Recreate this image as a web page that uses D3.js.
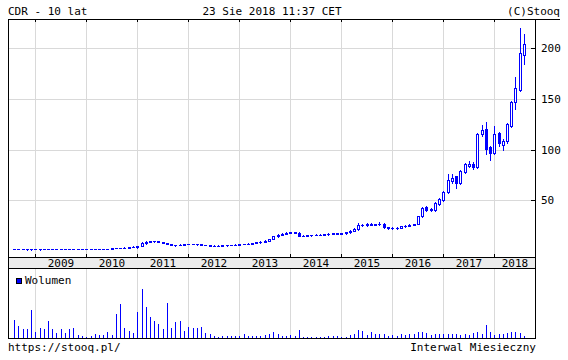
<!DOCTYPE html>
<html>
<head>
<meta charset="utf-8">
<script src="https://cdn.jsdelivr.net/npm/d3@7"></script>
<style>
body { margin: 0; background: #fff; }
text { font-family: "DejaVu Sans Mono", monospace; font-size: 11px; fill: #000; }
</style>
</head>
<body>
<div id="chart"></div>
<script>
// monthly candles, Aug 2008 .. Aug 2018 (121 months)
const firstMonth = new Date(2008, 7, 1);
const lastMonth = new Date(2018, 7, 1);
const years = [2009, 2010, 2011, 2012, 2013, 2014, 2015, 2016, 2017, 2018];
const priceTicks = [50, 100, 150, 200];

const opens = [
  2.1, 2.0, 1.9, 1.7, 1.7, 1.8, 1.7, 1.8, 1.8, 2.0, 1.9, 2.0, 2.0, 2.0, 2.1, 2.0, 2.0, 2.0, 2.0, 2.0,
  2.1, 2.1, 2.2, 2.3, 2.7, 3.0, 3.2, 3.4, 3.7, 3.6, 5.0, 8.0, 9.2, 9.7, 9.8, 8.9, 8.0, 6.8, 5.6, 6.2,
  6.3, 6.8, 7.0, 6.9, 6.6, 6.1, 5.6, 5.4, 5.3, 5.4, 5.6, 5.8, 6.1, 6.4, 6.7, 7.0, 7.4, 7.8, 8.5, 9.3,
  10.3, 11.9, 14.8, 16.0, 17.1, 17.8, 18.3, 18.1, 15.0, 15.3, 15.5, 15.8, 16.0, 16.3, 16.4, 17.1, 17.3, 17.0, 17.4, 18.5,
  20.1, 21.8, 25.6, 25.3, 27.0, 26.0, 26.3, 27.0, 23.3, 22.4, 22.8, 23.2, 24.6, 25.1, 25.8, 26.6, 34.3, 43.2, 40.0, 40.5,
  46.5, 50.3, 58.3, 69.0, 73.8, 67.6, 78.0, 84.0, 86.3, 83.0, 115.7, 120.6, 102.5, 97.0, 116.3, 105.0, 108.4, 123.8, 146.7, 159.0,
  193.0
];
const highs = [
  2.3, 2.1, 2.2, 1.9, 1.9, 1.9, 1.9, 2.0, 2.2, 2.1, 2.1, 2.2, 2.1, 2.2, 2.2, 2.1, 2.1, 2.1, 2.1, 2.2,
  2.2, 2.3, 2.4, 2.9, 3.2, 3.4, 3.6, 3.9, 4.6, 5.2, 9.0, 9.6, 10.2, 10.3, 10.0, 9.1, 8.2, 7.0, 6.4, 6.6,
  7.0, 7.2, 7.3, 7.1, 6.8, 6.3, 5.8, 5.6, 5.6, 5.8, 6.0, 6.3, 6.6, 6.9, 7.2, 7.6, 8.1, 8.7, 9.5, 10.6,
  12.3, 15.2, 16.5, 17.5, 18.3, 18.8, 19.0, 18.5, 15.8, 16.0, 16.3, 16.4, 16.8, 16.9, 17.5, 17.8, 17.7, 17.8, 18.8, 20.4,
  22.5, 27.6, 26.5, 27.5, 27.4, 26.9, 28.2, 27.3, 23.8, 23.4, 23.8, 25.0, 25.6, 26.3, 27.0, 35.0, 43.5, 44.0, 42.0, 48.5,
  52.0, 59.5, 76.5, 76.0, 74.5, 79.5, 87.0, 88.5, 87.5, 116.5, 124.5, 127.7, 104.0, 123.0, 117.8, 110.5, 126.5, 148.0, 172.0, 220.0,
  214.0
];
const lows = [
  1.9, 1.8, 1.6, 1.5, 1.5, 1.6, 1.5, 1.6, 1.7, 1.8, 1.8, 1.9, 1.9, 1.9, 1.9, 1.9, 1.9, 1.9, 1.9, 1.9,
  2.0, 2.0, 2.1, 2.2, 2.5, 2.8, 3.0, 3.2, 3.5, 3.4, 4.8, 7.4, 8.8, 9.2, 8.6, 7.8, 6.6, 5.6, 5.3, 5.9,
  6.1, 6.5, 6.6, 6.4, 6.0, 5.5, 5.2, 5.1, 5.1, 5.2, 5.4, 5.6, 5.9, 6.2, 6.5, 6.8, 7.2, 7.6, 8.3, 9.0,
  10.0, 11.6, 14.2, 15.6, 16.7, 17.4, 17.6, 14.4, 14.6, 14.9, 15.0, 15.4, 15.6, 15.8, 16.1, 16.8, 16.6, 16.7, 17.1, 18.2,
  19.8, 21.2, 24.6, 24.8, 25.2, 25.3, 25.8, 22.8, 21.8, 21.6, 22.2, 22.9, 24.0, 24.6, 25.2, 26.2, 33.5, 39.2, 39.2, 39.8,
  45.5, 49.8, 57.5, 67.5, 61.8, 66.5, 77.0, 83.0, 80.7, 82.0, 113.5, 96.0, 89.5, 95.5, 104.0, 99.3, 107.0, 122.5, 140.0, 158.0,
  185.0
];
const closes = [
  2.0, 1.9, 1.7, 1.7, 1.8, 1.7, 1.8, 1.8, 2.0, 1.9, 2.0, 2.0, 2.0, 2.1, 2.0, 2.0, 2.0, 2.0, 2.0, 2.1,
  2.1, 2.2, 2.3, 2.7, 3.0, 3.2, 3.4, 3.7, 4.2, 5.0, 8.0, 9.2, 9.7, 9.8, 8.9, 8.0, 6.8, 5.8, 6.2, 6.3,
  6.8, 7.0, 6.9, 6.6, 6.1, 5.6, 5.4, 5.3, 5.4, 5.6, 5.8, 6.1, 6.4, 6.7, 7.0, 7.4, 7.8, 8.5, 9.3, 10.3,
  11.9, 14.8, 16.0, 17.1, 17.8, 18.3, 18.1, 15.0, 15.3, 15.5, 15.8, 16.0, 16.3, 16.4, 17.1, 17.3, 17.0, 17.4, 18.5, 20.1,
  21.8, 25.6, 25.3, 27.0, 26.0, 26.3, 27.0, 23.3, 22.4, 22.8, 23.2, 24.6, 25.1, 25.8, 26.6, 34.3, 42.5, 40.0, 41.2, 47.6,
  51.0, 58.5, 70.0, 72.2, 66.7, 78.7, 85.6, 86.3, 83.0, 115.7, 119.6, 101.0, 97.2, 115.7, 106.5, 109.0, 125.5, 146.7, 160.8, 195.7,
  204.5
];
const volumes = [
  17.7, 11.7, 9.3, 8.7, 27.7, 6.0, 10.0, 8.7, 16.7, 8.7, 4.7, 8.7, 4.7, 8.7, 10.0, 3.0, 2.0, 0.5, 1.7, 3.7,
  3.0, 3.0, 5.7, 3.0, 23.7, 33.7, 10.0, 6.7, 4.7, 25.7, 48.7, 30.7, 20.7, 16.7, 13.7, 8.7, 34.7, 10.0, 15.7, 16.7,
  6.7, 10.7, 9.7, 9.7, 10.7, 5.3, 3.7, 1.7, 0.5, 2.3, 2.3, 2.3, 1.7, 2.3, 3.7, 2.3, 1.7, 2.3, 1.7, 3.0,
  4.3, 6.3, 3.7, 2.3, 2.3, 3.0, 2.3, 7.7, 1.0, 1.0, 1.0, 1.0, 1.0, 1.3, 1.7, 1.7, 1.7, 1.0, 1.0, 3.0,
  4.3, 7.7, 6.7, 3.0, 5.7, 3.7, 3.7, 4.3, 2.3, 3.0, 1.7, 3.7, 3.0, 3.7, 4.3, 5.7, 5.7, 5.0, 3.0, 4.3,
  3.7, 4.3, 3.7, 3.7, 4.3, 3.0, 3.7, 3.0, 5.0, 5.7, 4.3, 13.0, 5.7, 3.0, 4.3, 4.3, 5.0, 6.3, 5.7, 5.0,
  2.3
];

const months = d3.timeMonth.range(firstMonth, d3.timeMonth.offset(lastMonth, 1));
const candles = months.map((d, i) => ({
  date: d, open: opens[i], high: highs[i], low: lows[i], close: closes[i], vol: volumes[i]
}));

const width = 568, height = 360;
const plotLeft = 8, plotRight = 535, plotTop = 19, axisY = 257, volTop = 268, volBot = 338;
const blue = '#0000ff', gridColor = '#d9d9d9';

const svg = d3.select('#chart').append('svg')
  .attr('width', width)
  .attr('height', height);
svg.append('rect').attr('width', width).attr('height', height).attr('fill', '#fff');

let x = d3.scaleTime()
  .domain([firstMonth, lastMonth])
  .range([14, 524])
  .interpolate(d3.interpolateRound);
let y = d3.scaleLinear()
  .domain([-5.9, 229])
  .range([axisY, plotTop]);
let yVol = d3.scaleLinear()
  .domain([0, 70])
  .range([volBot, volTop]);

const yearStarts = years.map(yr => new Date(yr, 0, 1));

// grey band under the price panel
svg.append('rect')
  .attr('x', plotLeft + 1).attr('y', axisY + 1)
  .attr('width', plotRight - plotLeft - 1).attr('height', volTop - axisY - 1)
  .attr('fill', '#ececec');

// grid lines
const grid = svg.append('g').attr('shape-rendering', 'crispEdges');
grid.append('g')
  .attr('transform', `translate(0,${axisY})`)
  .call(d3.axisBottom(x).tickValues(yearStarts).tickSize(-(axisY - plotTop)).tickFormat(''))
  .call(g => g.select('.domain').remove())
  .call(g => g.selectAll('line').attr('stroke', gridColor));
grid.append('g')
  .attr('transform', `translate(0,${volBot})`)
  .call(d3.axisBottom(x).tickValues(yearStarts).tickSize(-(volBot - volTop)).tickFormat(''))
  .call(g => g.select('.domain').remove())
  .call(g => g.selectAll('line').attr('stroke', gridColor));
grid.append('g')
  .attr('transform', `translate(${plotRight},0)`)
  .call(d3.axisLeft(y).tickValues(priceTicks).tickSize(plotRight - plotLeft).tickFormat(''))
  .call(g => g.select('.domain').remove())
  .call(g => g.selectAll('line').attr('stroke', gridColor));

// borders
const frame = svg.append('g').attr('stroke', '#000').attr('shape-rendering', 'crispEdges');
frame.append('line').attr('x1', plotLeft).attr('x2', 560).attr('y1', plotTop + 0.5).attr('y2', plotTop + 0.5);
frame.append('line').attr('x1', plotLeft).attr('x2', plotRight + 1).attr('y1', axisY + 0.5).attr('y2', axisY + 0.5);
frame.append('line').attr('x1', plotLeft).attr('x2', plotRight + 1).attr('y1', volTop + 0.5).attr('y2', volTop + 0.5);
frame.append('line').attr('x1', plotLeft).attr('x2', plotRight + 1).attr('y1', volBot + 0.5).attr('y2', volBot + 0.5);
frame.append('line').attr('x1', plotLeft + 0.5).attr('x2', plotLeft + 0.5).attr('y1', plotTop).attr('y2', volBot + 1);
frame.append('line').attr('x1', plotRight + 0.5).attr('x2', plotRight + 0.5).attr('y1', plotTop).attr('y2', volBot + 1);

// year ticks on top and bottom of price panel
svg.append('g')
  .attr('transform', `translate(0,${axisY + 1})`)
  .call(d3.axisBottom(x).tickValues(yearStarts).tickSize(-4).tickFormat(''))
  .call(g => g.select('.domain').remove())
  .call(g => g.selectAll('line').attr('shape-rendering', 'crispEdges'));
svg.append('g')
  .attr('transform', `translate(0,${plotTop})`)
  .call(d3.axisTop(x).tickValues(yearStarts).tickSize(-3).tickFormat(''))
  .call(g => g.select('.domain').remove())
  .call(g => g.selectAll('line').attr('shape-rendering', 'crispEdges'));

// price axis on the right
svg.append('g')
  .attr('transform', `translate(${plotRight},0)`)
  .call(d3.axisRight(y).tickValues(priceTicks).tickSize(-4).tickPadding(6))
  .call(g => g.select('.domain').remove())
  .call(g => g.selectAll('line').attr('shape-rendering', 'crispEdges'))
  .call(g => g.selectAll('text').attr('font-family', null).attr('font-size', null));

// year labels centred in each year's span
svg.append('g').selectAll('text')
  .data(years)
  .join('text')
  .attr('x', yr => (x(new Date(yr, 0, 1)) + Math.min(x(new Date(yr + 1, 0, 1)), plotRight)) / 2 + 0.5)
  .attr('y', axisY + 10)
  .attr('text-anchor', 'middle')
  .text(yr => yr);

// candles
const cg = svg.append('g').attr('shape-rendering', 'crispEdges');
cg.selectAll('line')
  .data(candles)
  .join('line')
  .attr('x1', d => x(d.date) + 0.5)
  .attr('x2', d => x(d.date) + 0.5)
  .attr('y1', d => Math.round(y(d.high)))
  .attr('y2', d => Math.round(y(d.low)) + 1)
  .attr('stroke', blue);

cg.selectAll('rect')
  .data(candles)
  .join('rect')
  .each(function (d) {
    const cx = x(d.date);
    const y1 = Math.round(y(Math.max(d.open, d.close)));
    const y2 = Math.round(y(Math.min(d.open, d.close)));
    const r = d3.select(this);
    if (d.close > d.open && y2 - y1 >= 2) {
      r.attr('x', cx - 0.5).attr('y', y1 + 0.5).attr('width', 2).attr('height', y2 - y1)
        .attr('fill', '#fff').attr('stroke', blue);
    } else {
      r.attr('x', cx - 1).attr('y', y1).attr('width', 3).attr('height', Math.max(1, y2 - y1 + 1))
        .attr('fill', blue);
    }
  });

// volume
svg.append('g').attr('shape-rendering', 'crispEdges')
  .selectAll('line')
  .data(candles)
  .join('line')
  .attr('x1', d => x(d.date) + 0.5)
  .attr('x2', d => x(d.date) + 0.5)
  .attr('y1', volBot)
  .attr('y2', d => Math.min(volBot - 1, Math.round(yVol(d.vol))))
  .attr('stroke', blue);

// legend
svg.append('rect')
  .attr('x', 16.5).attr('y', 278.5).attr('width', 5).attr('height', 5)
  .attr('fill', blue).attr('stroke', '#000').attr('shape-rendering', 'crispEdges');
svg.append('text').attr('x', 25).attr('y', 284).text('Wolumen');

// header and footer
svg.append('text').attr('x', 8).attr('y', 15).text('CDR - 10 lat');
svg.append('text').attr('x', 272).attr('y', 15).attr('text-anchor', 'middle').text('23 Sie 2018 11:37 CET');
svg.append('text').attr('x', 560).attr('y', 15).attr('text-anchor', 'end').text('(C)Stooq');
svg.append('text').attr('x', 8).attr('y', 351).attr('fill', '#222').text('https://stooq.pl/');
svg.append('text').attr('x', 536).attr('y', 351).attr('text-anchor', 'end').attr('fill', '#222').text('Interwal Miesieczny');
</script>
</body>
</html>
